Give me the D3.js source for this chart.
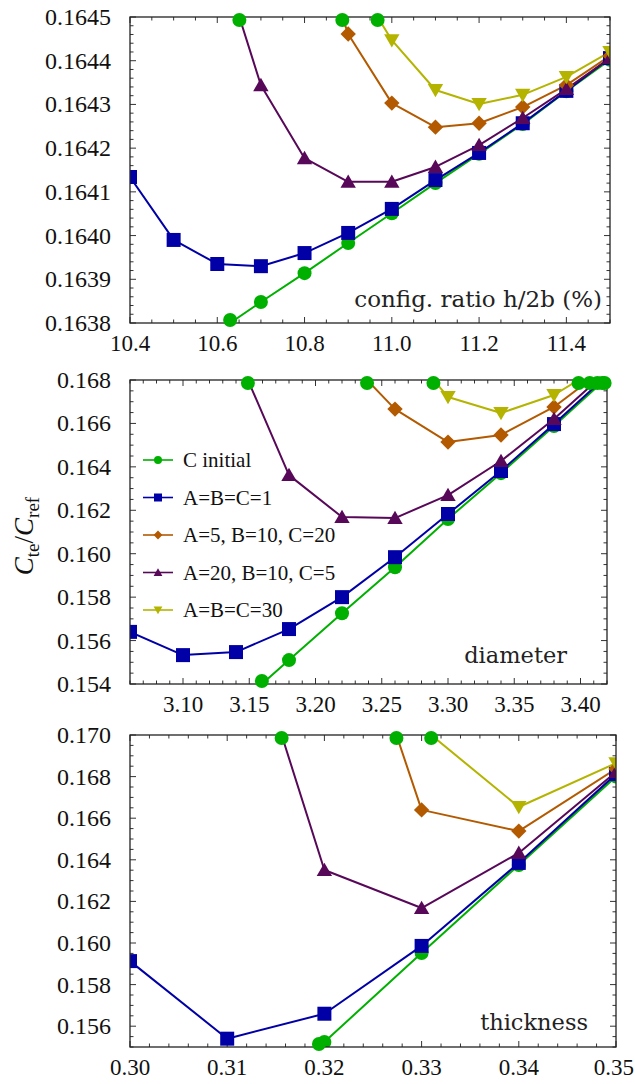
<!DOCTYPE html>
<html>
<head>
<meta charset="utf-8">
<script src="https://cdn.jsdelivr.net/npm/d3@7"></script>
<style>
  body { margin: 0; background: #fff; }
  svg { display: block; }
  .tick-label { font-family: "Liberation Serif", "Times New Roman", serif; font-size: 24px; fill: #111; }
  .tick-label.x { font-size: 23px; }
  .legend-label { font-family: "Liberation Serif", "Times New Roman", serif; font-size: 21px; fill: #111; }
  .note { font-family: "DejaVu Serif", serif; font-size: 22px; fill: #222; }
</style>
</head>
<body>
<div id="chart"></div>
<script>
// series names, in drawing order
const seriesNames = ["C initial", "A=B=C=1", "A=5, B=10, C=20", "A=20, B=10, C=5", "A=B=C=30"];
const seriesColors = ["#00b000", "#0000a6", "#b35a00", "#580858", "#b4b400"];
const seriesShapes = ["circle", "square", "diamond", "triangle", "triangleDown"];

// panel 1 : config. ratio h/2b (%)
const ratioX = [10.4, 10.5, 10.6, 10.7, 10.8, 10.9, 11.0, 11.1, 11.2, 11.3, 11.4, 11.5];
const ratioInitial = [null, null, 0.16378, 0.163848, 0.163914, 0.163983, 0.164051, 0.16412, 0.164187, 0.164255, 0.16433, 0.164402];
const ratioABC1 = [0.164134, 0.16399, 0.163935, 0.16393, 0.16396, 0.164006, 0.164061, 0.164127, 0.164189, 0.164257, 0.164331, 0.164406];
const ratioA5 = [null, null, null, null, 0.16475, 0.164461, 0.164303, 0.164248, 0.164257, 0.164294, 0.164344, 0.164411];
const ratioA20 = [null, null, 0.16466, 0.164344, 0.164177, 0.164123, 0.164123, 0.164157, 0.164207, 0.164269, 0.164335, 0.164406];
const ratioABC30 = [null, null, null, null, null, 0.16461, 0.164447, 0.164333, 0.164301, 0.164322, 0.164363, 0.16442];
const ratioXTicks = [10.4, 10.6, 10.8, 11.0, 11.2, 11.4];
const ratioYTicks = [0.1638, 0.1639, 0.1640, 0.1641, 0.1642, 0.1643, 0.1644, 0.1645];

// panel 2 : diameter
const diamX = [3.06, 3.10, 3.14, 3.18, 3.22, 3.26, 3.30, 3.34, 3.38, 3.42];
const diamInitial = [null, null, 0.15295, 0.1551, 0.15726, 0.15938, 0.1616, 0.16371, 0.16588, 0.1681];
const diamABC1 = [0.1564, 0.15533, 0.15547, 0.15653, 0.158, 0.15984, 0.16183, 0.16381, 0.16597, 0.1682];
const diamA5 = [null, null, null, null, 0.1692, 0.16666, 0.16514, 0.16547, 0.16676, 0.1686];
const diamA20 = [null, null, 0.16927, 0.16362, 0.16169, 0.16164, 0.1627, 0.16427, 0.1662, 0.1684];
const diamABC30 = [null, null, null, null, null, 0.17006, 0.16722, 0.16648, 0.16731, 0.1688];
const diamXTicks = [3.10, 3.15, 3.20, 3.25, 3.30, 3.35, 3.40];
const diamYTicks = [0.154, 0.156, 0.158, 0.160, 0.162, 0.164, 0.166, 0.168];

// panel 3 : thickness
const thickX = [0.30, 0.31, 0.32, 0.33, 0.34, 0.35];
const thickInitial = [null, 0.15096, 0.15524, 0.15952, 0.16375, 0.168];
const thickABC1 = [0.15913, 0.1554, 0.1566, 0.15986, 0.16385, 0.16812];
const thickA5 = [null, null, 0.1803, 0.1664, 0.16538, 0.16837];
const thickA20 = [null, 0.17826, 0.16351, 0.16168, 0.16433, 0.16822];
const thickABC30 = [null, null, null, 0.17038, 0.16654, 0.16865];
const thickXTicks = [0.30, 0.31, 0.32, 0.33, 0.34, 0.35];
const thickYTicks = [0.156, 0.158, 0.160, 0.162, 0.164, 0.166, 0.168, 0.170];

const W = 635, H = 1084;
const svg = d3.select("#chart").append("svg").attr("width", W).attr("height", H);

function markerPath(shape, s) {
    // s = overall marker size in px
    const h = s / 2;
    if (shape === "circle") return d3.symbol(d3.symbolCircle, Math.PI * h * h)();
    if (shape === "square") return `M${-h},${-h}H${h}V${h}H${-h}Z`;
    if (shape === "diamond") return `M0,${-h * 1.1}L${h * 1.1},0L0,${h * 1.1}L${-h * 1.1},0Z`;
    if (shape === "triangle") return `M0,${-h * 1.05}L${h * 1.1},${h * 0.85}L${-h * 1.1},${h * 0.85}Z`;
    return `M0,${h * 1.05}L${h * 1.1},${-h * 0.85}L${-h * 1.1},${-h * 0.85}Z`;
}

function drawPanel(cfg, idx) {
    const g = svg.append("g");
    const x = d3.scaleLinear().domain(cfg.xDomain).range([cfg.left, cfg.right]);
    const y = d3.scaleLinear().domain(cfg.yDomain).range([cfg.bottom, cfg.top]);

    const clipId = "clip" + idx;
    g.append("clipPath").attr("id", clipId).append("rect")
        .attr("x", cfg.left).attr("y", cfg.top)
        .attr("width", cfg.right - cfg.left).attr("height", cfg.bottom - cfg.top);

    // inward ticks on all four sides
    const tickG = g.append("g").attr("stroke", "#333").attr("stroke-width", 1);
    const isMajor = (v, arr) => arr.some(t => Math.abs(t - v) < 1e-8);
    cfg.xMinor.forEach(v => {
        const len = isMajor(v, cfg.xTicks) ? 6 : 3.5;
        const px = x(v);
        tickG.append("line").attr("x1", px).attr("x2", px).attr("y1", cfg.bottom).attr("y2", cfg.bottom - len);
        tickG.append("line").attr("x1", px).attr("x2", px).attr("y1", cfg.top).attr("y2", cfg.top + len);
    });
    cfg.yMinor.forEach(v => {
        const len = isMajor(v, cfg.yTicks) ? 6 : 3.5;
        const py = y(v);
        tickG.append("line").attr("y1", py).attr("y2", py).attr("x1", cfg.left).attr("x2", cfg.left + len);
        tickG.append("line").attr("y1", py).attr("y2", py).attr("x1", cfg.right).attr("x2", cfg.right - len);
    });

    // tick labels
    cfg.xTicks.forEach(v => {
        const t = g.append("text").attr("class", "tick-label x")
            .attr("x", x(v)).attr("y", cfg.bottom + 28)
            .attr("text-anchor", "middle").text(d3.format(cfg.xFmt)(v));
        // keep the last label inside the page
        const half = t.node().getComputedTextLength() / 2;
        if (x(v) + half > W - 1) t.attr("x", W - 1 - half);
    });
    cfg.yTicks.forEach(v => {
        g.append("text").attr("class", "tick-label")
            .attr("x", cfg.left - 19).attr("y", y(v) + 8)
            .attr("text-anchor", "end").text(d3.format(cfg.yFmt)(v));
    });

    // series
    const plot = g.append("g").attr("clip-path", `url(#${clipId})`);
    const exits = [];
    cfg.series.forEach((vals, si) => {
        const pts = cfg.xs.map((xv, i) => [xv, vals[i]]).filter(p => p[1] !== null);
        plot.append("path")
            .attr("fill", "none")
            .attr("stroke", seriesColors[si])
            .attr("stroke-width", 2)
            .attr("stroke-linejoin", "round")
            .attr("d", d3.line().x(p => x(p[0])).y(p => y(p[1]))(pts));
        // where a line leaves the plot range vertically
        const [y0, y1] = cfg.yDomain;
        for (let i = 0; i < pts.length - 1; i++) {
            const a = pts[i], b = pts[i + 1];
            [y0, y1].forEach(lim => {
                if ((a[1] - lim) * (b[1] - lim) < 0) {
                    const t = (lim - a[1]) / (b[1] - a[1]);
                    exits.push([a[0] + t * (b[0] - a[0]), lim]);
                }
            });
        }
    });
    cfg.series.forEach((vals, si) => {
        cfg.xs.forEach((xv, i) => {
            if (vals[i] === null) return;
            const py = y(vals[i]);
            if (py < cfg.top - 10 || py > cfg.bottom + 10) return;
            plot.append("path")
                .attr("d", markerPath(seriesShapes[si], 14))
                .attr("transform", `translate(${x(xv)},${py})`)
                .attr("fill", seriesColors[si]);
        });
    });

    // frame
    g.append("rect")
        .attr("x", cfg.left).attr("y", cfg.top)
        .attr("width", cfg.right - cfg.left).attr("height", cfg.bottom - cfg.top)
        .attr("fill", "none").attr("stroke", "#222").attr("stroke-width", 1.3);

    exits.forEach(p => {
        g.append("path")
            .attr("d", markerPath("circle", 14))
            .attr("transform", `translate(${x(p[0])},${y(p[1]) + (p[1] === cfg.yDomain[1] ? 3 : -3)})`)
            .attr("fill", seriesColors[0]);
    });

    // panel note
    g.append("text").attr("class", "note")
        .attr("x", cfg.noteX).attr("y", cfg.noteY)
        .style("font-size", cfg.noteSize + "px")
        .attr("text-anchor", "end").text(cfg.note);

    return { g, x, y };
}

const panels = [
    {
        left: 130, right: 610, top: 17, bottom: 323,
        xDomain: [10.4, 11.5], yDomain: [0.1638, 0.1645],
        xs: ratioX, series: [ratioInitial, ratioABC1, ratioA5, ratioA20, ratioABC30],
        xTicks: ratioXTicks, yTicks: ratioYTicks,
        xMinor: d3.range(0, 23).map(i => 10.4 + i * 0.05),
        yMinor: d3.range(0, 36).map(i => 0.1638 + i * 0.00002),
        xFmt: ".1f", yFmt: ".4f",
        note: "config. ratio h/2b (%)", noteX: 602, noteY: 307, noteSize: 23
    },
    {
        left: 130, right: 607, top: 380, bottom: 684,
        xDomain: [3.06, 3.42], yDomain: [0.154, 0.168],
        xs: diamX, series: [diamInitial, diamABC1, diamA5, diamA20, diamABC30],
        xTicks: diamXTicks, yTicks: diamYTicks,
        xMinor: d3.range(0, 37).map(i => 3.06 + i * 0.01),
        yMinor: d3.range(0, 29).map(i => 0.154 + i * 0.0005),
        xFmt: ".2f", yFmt: ".3f",
        note: "diameter", noteX: 567, noteY: 663, noteSize: 22.5
    },
    {
        left: 130, right: 616, top: 735, bottom: 1047,
        xDomain: [0.30, 0.35], yDomain: [0.155, 0.170],
        xs: thickX, series: [thickInitial, thickABC1, thickA5, thickA20, thickABC30],
        xTicks: thickXTicks, yTicks: thickYTicks,
        xMinor: d3.range(0, 26).map(i => 0.30 + i * 0.002),
        yMinor: d3.range(0, 31).map(i => 0.155 + i * 0.0005),
        xFmt: ".2f", yFmt: ".3f",
        note: "thickness", noteX: 588, noteY: 1030, noteSize: 22.5
    }
];

panels.forEach((p, i) => drawPanel(p, i));

// legend inside the middle panel
const legend = svg.append("g").attr("transform", "translate(143,460)");
seriesNames.forEach((name, i) => {
    const row = legend.append("g").attr("transform", `translate(0,${i * 37.5})`);
    row.append("line").attr("x1", 0).attr("x2", 30).attr("y1", 0).attr("y2", 0)
        .attr("stroke", seriesColors[i]).attr("stroke-width", 1.6);
    row.append("path").attr("d", markerPath(seriesShapes[i], 8))
        .attr("transform", "translate(15,0)").attr("fill", seriesColors[i]);
    row.append("text").attr("class", "legend-label")
        .attr("x", 40).attr("y", 7).text(name);
});

// y axis title
const yTitle = svg.append("text")
    .attr("transform", "translate(33,536) rotate(-90)")
    .attr("text-anchor", "middle")
    .style("font-family", "'Liberation Serif', 'Times New Roman', serif")
    .style("font-size", "27px").attr("fill", "#111");
yTitle.append("tspan").style("font-style", "italic").text("C");
yTitle.append("tspan").attr("dy", 6).style("font-size", "19px").text("te");
yTitle.append("tspan").attr("dy", -6).text("/");
yTitle.append("tspan").style("font-style", "italic").text("C");
yTitle.append("tspan").attr("dy", 6).style("font-size", "19px").text("ref");
</script>
</body>
</html>
